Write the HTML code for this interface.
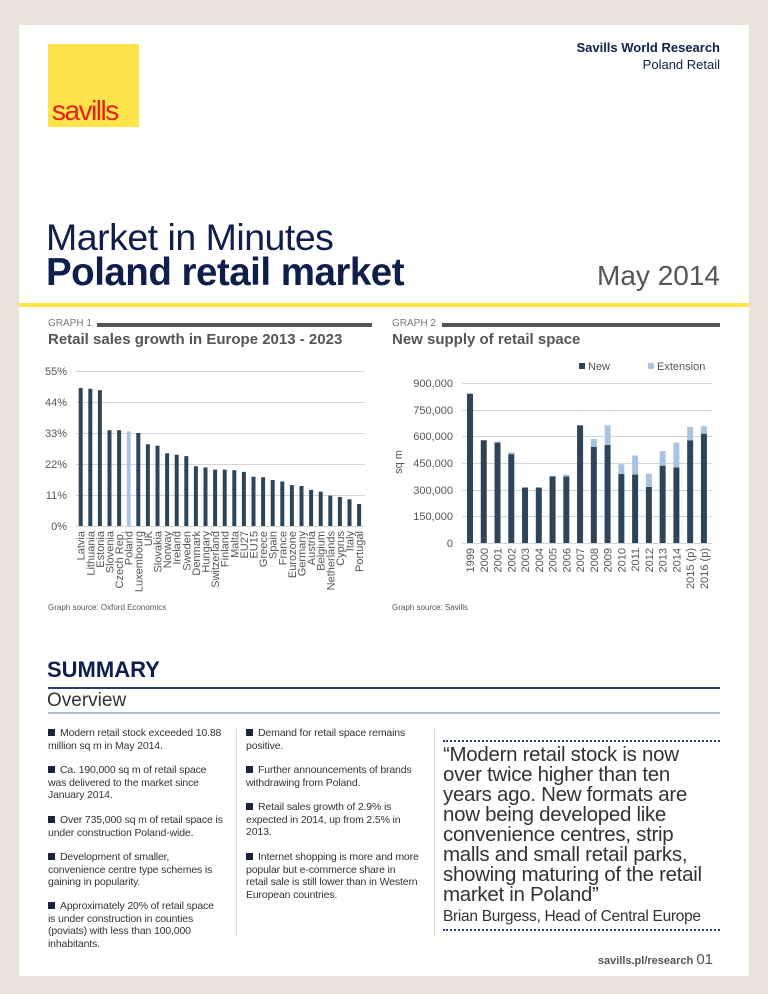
<!DOCTYPE html>
<html><head><meta charset="utf-8"><style>
body{margin:0;width:768px;height:994px;background:#e8e2d8;position:relative;font-family:"Liberation Sans",sans-serif;overflow:hidden}
.card{position:absolute;left:19px;top:25px;width:730px;height:951px;background:#fff}
.a{position:absolute;white-space:nowrap}
.navy{color:#0f1f4b}
.b{font-size:10.5px;line-height:12.5px;color:#333;position:absolute;white-space:nowrap;letter-spacing:-0.15px}
.sq{display:inline-block;width:7px;height:7px;background:#1a2340;margin-right:5px}
</style></head><body>
<div class="card"></div>
<div class="a" style="left:48px;top:44px;width:91px;height:83px;background:#ffe34a"></div>
<div class="a" style="left:52px;top:95px;font-size:28px;color:#e2231a;letter-spacing:-1.5px">savills</div>
<div class="a navy" style="right:48px;top:40px;font-size:13px;font-weight:bold;text-align:right">Savills World Research</div>
<div class="a navy" style="right:48px;top:57px;font-size:13px;text-align:right">Poland Retail</div>
<div class="a navy" style="left:46px;top:216px;font-size:37.5px;font-weight:300;letter-spacing:-0.5px">Market in Minutes</div>
<div class="a navy" style="left:46px;top:251px;font-size:38.5px;font-weight:bold;letter-spacing:-0.5px">Poland retail market</div>
<div class="a" style="right:48px;top:260px;font-size:28px;color:#555">May 2014</div>
<div class="a" style="left:19px;top:303px;width:730px;height:4px;background:#ffe34a"></div>
<div class="a" style="left:48px;top:318px;font-size:10px;color:#777">GRAPH 1</div>
<div class="a" style="left:97px;top:323px;width:275px;height:4px;background:#555"></div>
<div class="a" style="left:392px;top:318px;font-size:10px;color:#777">GRAPH 2</div>
<div class="a" style="left:442px;top:323px;width:278px;height:4px;background:#555"></div>
<div class="a" style="left:48px;top:331px;font-size:15px;font-weight:bold;color:#555">Retail sales growth in Europe 2013 - 2023</div>
<div class="a" style="left:392px;top:331px;font-size:15px;font-weight:bold;color:#555">New supply of retail space</div>

<svg class="a" style="left:0;top:0" width="768" height="994" font-family="Liberation Sans, sans-serif" font-size="11" fill="#555">
<g stroke="#d4d4d4" stroke-width="1">
<line x1="76" x2="365" y1="371.5" y2="371.5"/><line x1="76" x2="365" y1="402.5" y2="402.5"/><line x1="76" x2="365" y1="433.5" y2="433.5"/><line x1="76" x2="365" y1="464.5" y2="464.5"/><line x1="76" x2="365" y1="495.5" y2="495.5"/><line x1="76" x2="365" y1="526.5" y2="526.5"/>
<line x1="462" x2="712" y1="383.5" y2="383.5"/><line x1="462" x2="712" y1="410.5" y2="410.5"/><line x1="462" x2="712" y1="436.5" y2="436.5"/><line x1="462" x2="712" y1="463.5" y2="463.5"/><line x1="462" x2="712" y1="490.5" y2="490.5"/><line x1="462" x2="712" y1="516.5" y2="516.5"/><line x1="462" x2="712" y1="543.5" y2="543.5"/>
</g>
<g text-anchor="end"><text x="67" y="375">55%</text><text x="67" y="406">44%</text><text x="67" y="437">33%</text><text x="67" y="468">22%</text><text x="67" y="499">11%</text><text x="67" y="530">0%</text>
<text x="453" y="387">900,000</text><text x="453" y="414">750,000</text><text x="453" y="440">600,000</text><text x="453" y="467">450,000</text><text x="453" y="494">300,000</text><text x="453" y="520">150,000</text><text x="453" y="547">0</text></g>
<text transform="translate(402,462) rotate(-90)" text-anchor="middle">sq m</text>
<rect x="579" y="363" width="6" height="6" fill="#2e4559"/><text x="588" y="370">New</text>
<rect x="648" y="363" width="6" height="6" fill="#a9c4e0"/><text x="657" y="370">Extension</text>
<g id="g1"></g><g id="g2"></g>
</svg>
<script>
var ns="http://www.w3.org/2000/svg";
function el(p,t,a,txt){var e=document.createElementNS(ns,t);for(var k in a)e.setAttribute(k,a[k]);if(txt)e.textContent=txt;p.appendChild(e);return e;}
var c1=[["Latvia",49],["Lithuania",48.7],["Estonia",48.2],["Slovenia",34],["Czech Rep.",34],["Poland",33.6],["Luxembourg",33],["UK",29],["Slovakia",28.5],["Norway",25.8],["Ireland",25.3],["Sweden",24.8],["Denmark",21.2],["Hungary",20.8],["Switzerland",20],["Finland",20],["Malta",19.8],["EU27",19.2],["EU15",17.5],["Greece",17.3],["Spain",16.3],["France",15.8],["Eurozone",14.5],["Germany",14.2],["Austria",12.8],["Belgium",12.2],["Netherlands",10.8],["Cyprus",10.3],["Italy",9.5],["Portugal",7.8]];
var g1=document.getElementById("g1");
c1.forEach(function(d,i){var cx=80.7+i*9.6,h=d[1]*31/11;
el(g1,"rect",{x:cx-2,y:526-h,width:4,height:h,fill:d[0]=="Poland"?"#a9c4e0":"#2e4559"});
el(g1,"text",{transform:"translate("+(cx+4)+",531) rotate(-90)","text-anchor":"end"},d[0]);});
var c2=[["1999",840,0],["2000",578,0],["2001",565,5],["2002",500,10],["2003",312,0],["2004",312,0],["2005",375,0],["2006",375,10],["2007",662,0],["2008",540,45],["2009",552,110],["2010",388,55],["2011",385,107],["2012",315,75],["2013",435,82],["2014",425,140],["2015 (p)",578,75],["2016 (p)",615,42]];
var g2=document.getElementById("g2"),k=160/900;
c2.forEach(function(d,i){var cx=470+i*13.76,h1=d[1]*k,h2=d[2]*k;
el(g2,"rect",{x:cx-3,y:543-h1,width:6,height:h1,fill:"#2e4559"});
if(h2)el(g2,"rect",{x:cx-3,y:543-h1-h2,width:6,height:h2,fill:"#a9c4e0"});
el(g2,"text",{transform:"translate("+(cx+4)+",548) rotate(-90)","text-anchor":"end"},d[0]);});
</script>
<div class="a" style="left:48px;top:603px;font-size:8px;color:#555">Graph source: Oxford Economics</div>
<div class="a" style="left:392px;top:603px;font-size:8px;color:#555">Graph source: Savills</div>

<div class="a navy" style="left:47px;top:657px;font-size:22px;font-weight:bold">SUMMARY</div>
<div class="a" style="left:48px;top:687px;width:672px;height:2px;background:#2c3e6b"></div>
<div class="a" style="left:47px;top:690px;font-size:19px;font-weight:300;color:#333">Overview</div>
<div class="a" style="left:48px;top:712px;width:672px;height:2px;background:#b5bfd0"></div>
<div class="a" style="left:236px;top:729px;width:1px;height:207px;background:#d5d9e3"></div>
<div class="a" style="left:434px;top:729px;width:1px;height:207px;background:#d5d9e3"></div>
<div class="b" style="left:48px;top:727px"><span class="sq"></span>Modern retail stock exceeded 10.88<br>million sq m in May 2014.</div>
<div class="b" style="left:48px;top:764px"><span class="sq"></span>Ca. 190,000 sq m of retail space<br>was delivered to the market since<br>January 2014.</div>
<div class="b" style="left:48px;top:814px"><span class="sq"></span>Over 735,000 sq m of retail space is<br>under construction Poland-wide.</div>
<div class="b" style="left:48px;top:851px"><span class="sq"></span>Development of smaller,<br>convenience centre type schemes is<br>gaining in popularity.</div>
<div class="b" style="left:48px;top:900px"><span class="sq"></span>Approximately 20% of retail space<br>is under construction in counties<br>(poviats) with less than 100,000<br>inhabitants.</div>
<div class="b" style="left:246px;top:727px"><span class="sq"></span>Demand for retail space remains<br>positive.</div>
<div class="b" style="left:246px;top:764px"><span class="sq"></span>Further announcements of brands<br>withdrawing from Poland.</div>
<div class="b" style="left:246px;top:801px"><span class="sq"></span>Retail sales growth of 2.9% is<br>expected in 2014, up from 2.5% in<br>2013.</div>
<div class="b" style="left:246px;top:851px"><span class="sq"></span>Internet shopping is more and more<br>popular but e-commerce share in<br>retail sale is still lower than in Western<br>European countries.</div>
<div class="a" style="left:443px;top:740px;width:277px;border-top:2px dotted #2c3e6b"></div>
<div class="a" style="left:443px;top:745px;font-size:20.5px;line-height:20px;color:#333;letter-spacing:-0.3px">“Modern retail stock is now<br>over twice higher than ten<br>years ago. New formats are<br>now being developed like<br>convenience centres, strip<br>malls and small retail parks,<br>showing maturing of the retail<br>market in Poland”</div>
<div class="a" style="left:443px;top:908px;font-size:15.5px;color:#333;letter-spacing:-0.3px">Brian Burgess, Head of Central Europe</div>
<div class="a" style="left:443px;top:929px;width:277px;border-top:2px dotted #2c3e6b"></div>
<div class="a" style="right:55px;top:951px;font-size:11px;font-weight:bold;color:#555">savills.pl/research <span style="font-size:15px;font-weight:normal">01</span></div>
</body></html>
